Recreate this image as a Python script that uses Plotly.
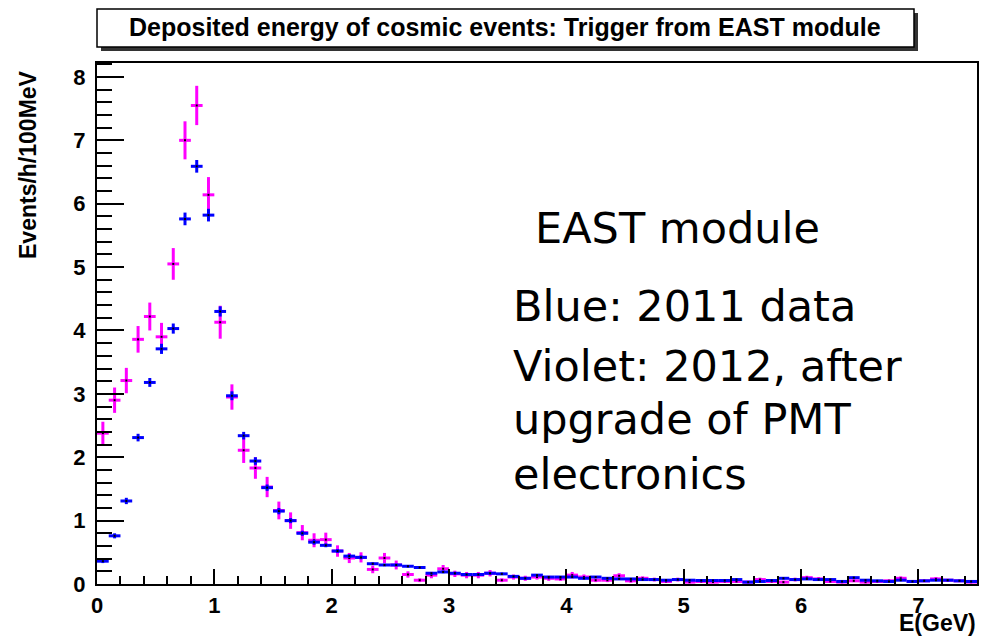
import plotly.graph_objects as go

# Bin centres (GeV), 100 MeV bins from 0 to 7.5 GeV
bin_centres = [round(0.05 + 0.1 * i, 2) for i in range(75)]
half_bin = 0.05

# 2011 data (blue): events/h/100MeV
blue_2011 = [
    0.36, 0.76, 1.31, 2.31, 3.18, 3.71, 4.03, 5.76, 6.59, 5.82,
    4.30, 2.97, 2.34, 1.94, 1.52, 1.15, 1.00, 0.80, 0.66, 0.61,
    0.52, 0.44, 0.42, 0.32, 0.30, 0.30, 0.28, 0.26, 0.17, 0.19,
    0.17, 0.15, 0.15, 0.17, 0.16, 0.12, 0.09, 0.14, 0.11, 0.11,
    0.11, 0.09, 0.11, 0.09, 0.08, 0.08, 0.07, 0.07, 0.06, 0.07,
    0.06, 0.055, 0.055, 0.055, 0.07, 0.03, 0.04, 0.055, 0.09, 0.07,
    0.08, 0.07, 0.07, 0.04, 0.10, 0.06, 0.05, 0.04, 0.06, 0.04,
    0.05, 0.06, 0.06, 0.05, 0.04,
]
blue_2011_err = [
    0.03, 0.04, 0.05, 0.06, 0.07, 0.08, 0.08, 0.10, 0.10, 0.10,
    0.08, 0.07, 0.06, 0.06, 0.05, 0.05, 0.04, 0.04, 0.04, 0.03,
    0.03, 0.03, 0.03, 0.02, 0.02, 0.02, 0.02, 0.02, 0.02, 0.02,
    0.02, 0.02, 0.02, 0.02, 0.02, 0.015, 0.015, 0.015, 0.015, 0.015,
    0.015, 0.015, 0.015, 0.015, 0.015, 0.015, 0.015, 0.015, 0.015, 0.015,
    0.015, 0.015, 0.015, 0.015, 0.015, 0.01, 0.01, 0.015, 0.015, 0.015,
    0.015, 0.015, 0.015, 0.01, 0.015, 0.01, 0.01, 0.01, 0.01, 0.01,
    0.01, 0.01, 0.01, 0.01, 0.01,
]

# 2012 data after PMT electronics upgrade (violet)
violet_2012 = [
    2.38, 2.90, 3.21, 3.86, 4.22, 3.90, 5.05, 7.00, 7.55, 6.14,
    4.13, 2.95, 2.11, 1.83, 1.53, 1.16, 1.00, 0.81, 0.69, 0.70,
    0.52, 0.41, 0.42, 0.23, 0.41, 0.30, 0.15, 0.06, 0.14, 0.24,
    0.16, 0.14, 0.14, 0.17, 0.06, 0.11, 0.09, 0.11, 0.09, 0.08,
    0.14, 0.11, 0.06, 0.06, 0.13, 0.05, 0.09, 0.07, 0.04, 0.07,
    0.03, 0.04, 0.03, 0.04, 0.04, 0.03, 0.07, 0.04, 0.03, 0.07,
    0.10, 0.08, 0.04, 0.03, 0.05, 0.03, 0.04, 0.05, 0.09, 0.04,
    0.05, 0.08, 0.06, 0.05, 0.03,
]
violet_2012_err = [
    0.18, 0.20, 0.20, 0.21, 0.22, 0.22, 0.25, 0.30, 0.31, 0.28,
    0.26, 0.20, 0.20, 0.17, 0.16, 0.14, 0.13, 0.12, 0.11, 0.11,
    0.09, 0.08, 0.08, 0.06, 0.08, 0.07, 0.05, 0.03, 0.05, 0.06,
    0.05, 0.05, 0.05, 0.05, 0.03, 0.04, 0.04, 0.04, 0.04, 0.03,
    0.05, 0.04, 0.03, 0.03, 0.04, 0.03, 0.03, 0.03, 0.02, 0.03,
    0.02, 0.02, 0.02, 0.02, 0.02, 0.02, 0.03, 0.02, 0.02, 0.03,
    0.03, 0.03, 0.02, 0.02, 0.02, 0.02, 0.02, 0.02, 0.03, 0.02,
    0.02, 0.03, 0.02, 0.02, 0.02,
]

x_ticks = [0, 1, 2, 3, 4, 5, 6, 7]
y_ticks = [0, 1, 2, 3, 4, 5, 6, 7, 8]

W, H = 992, 637
ML, MR, MT, MB = 97, 15, 63, 53
PW, PH = W - ML - MR, H - MT - MB


def px_x(px):
    return (px - ML) / PW


def px_y(py):
    return (H - MB - py) / PH


def hist_trace(values, errors, colour, name):
    return go.Scatter(
        x=bin_centres, y=values, name=name, mode="markers",
        marker=dict(size=2, color="black", symbol="square"),
        error_x=dict(type="constant", value=half_bin, thickness=3,
                     width=0, color=colour),
        error_y=dict(type="data", array=errors, thickness=3,
                     width=0, color=colour),
        showlegend=False, hoverinfo="x+y",
    )


fig = go.Figure()
fig.add_trace(hist_trace(violet_2012, violet_2012_err, "#ff00ff", "2012"))
fig.add_trace(hist_trace(blue_2011, blue_2011_err, "#0000ff", "2011"))

axis_font = dict(family="Liberation Sans", size=22, color="black", weight="bold")

fig.update_xaxes(
    range=[0, 7.5], tickvals=x_ticks, ticks="inside", ticklen=15,
    tickwidth=2, tickcolor="black", showgrid=False, zeroline=False,
    showline=True, linecolor="black", linewidth=2, mirror=True,
    tickfont=axis_font, ticklabelstandoff=1,
    minor=dict(dtick=0.2, ticks="inside", ticklen=8, tickwidth=2,
               tickcolor="black", showgrid=False),
)
fig.update_yaxes(
    range=[0, 8.22], tickvals=y_ticks, ticks="inside", ticklen=27,
    tickwidth=2, tickcolor="black", showgrid=False, zeroline=False,
    showline=True, linecolor="black", linewidth=2, mirror=True,
    tickfont=axis_font, ticklabelstandoff=5,
    minor=dict(dtick=0.2, ticks="inside", ticklen=15, tickwidth=2,
               tickcolor="black", showgrid=False),
)

# Title box with drop shadow
shapes = [
    dict(type="rect", xref="paper", yref="paper",
         x0=px_x(101), x1=px_x(918), y0=px_y(51), y1=px_y(13),
         fillcolor="#333333", line=dict(width=0), layer="above"),
    dict(type="rect", xref="paper", yref="paper",
         x0=px_x(97), x1=px_x(914), y0=px_y(47), y1=px_y(9),
         fillcolor="white", line=dict(color="black", width=1.5), layer="above"),
]

note_font = dict(family="DejaVu Sans", size=43, color="black")
annotations = [
    dict(text="Deposited energy of cosmic events: Trigger from EAST module",
         xref="paper", yref="paper", x=px_x(505), y=px_y(27),
         showarrow=False, xanchor="center", yanchor="middle",
         font=dict(family="Liberation Sans", size=25, color="black", weight="bold")),
    dict(text="Events/h/100MeV", textangle=-90,
         xref="paper", yref="paper", x=px_x(28), y=px_y(165),
         showarrow=False, xanchor="center", yanchor="middle",
         font=dict(family="Liberation Sans", size=23, color="black", weight="bold")),
    dict(text="E(GeV)", xref="paper", yref="paper", x=px_x(977), y=px_y(637),
         showarrow=False, xanchor="right", yanchor="bottom", borderpad=0,
         font=dict(family="Liberation Sans", size=23, color="black", weight="bold")),
    dict(text="EAST module", xref="paper", yref="paper", x=px_x(533), y=px_y(228),
         showarrow=False, xanchor="left", yanchor="middle", font=note_font),
    dict(text="Blue: 2011 data", xref="paper", yref="paper", x=px_x(511), y=px_y(306),
         showarrow=False, xanchor="left", yanchor="middle", font=note_font),
    dict(text="Violet: 2012, after", xref="paper", yref="paper", x=px_x(511), y=px_y(366),
         showarrow=False, xanchor="left", yanchor="middle", font=note_font),
    dict(text="upgrade of PMT", xref="paper", yref="paper", x=px_x(511), y=px_y(419),
         showarrow=False, xanchor="left", yanchor="middle", font=note_font),
    dict(text="electronics", xref="paper", yref="paper", x=px_x(511), y=px_y(474),
         showarrow=False, xanchor="left", yanchor="middle", font=note_font),
]

fig.update_layout(
    width=W, height=H,
    margin=dict(l=ML, r=MR, t=MT, b=MB),
    paper_bgcolor="white", plot_bgcolor="white",
    shapes=shapes, annotations=annotations,
)

fig.write_html("out.html")
